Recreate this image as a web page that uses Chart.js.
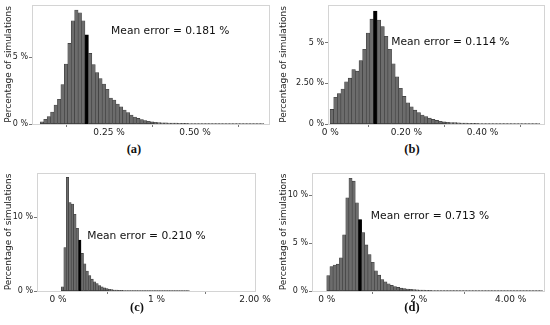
<!DOCTYPE html>
<html><head><meta charset="utf-8">
<script src="https://cdn.jsdelivr.net/npm/chart.js@4/dist/chart.umd.min.js"></script>
<style>
body{margin:0;background:#fff;width:550px;height:325px;position:relative;overflow:hidden;font-family:"DejaVu Sans"}
canvas{position:absolute}
.cap{position:absolute;font-family:"Liberation Serif","DejaVu Serif",serif;font-weight:bold;font-size:12.5px;transform:translate(-50%,-50%);color:#111;white-space:nowrap}
</style></head><body>
<canvas id="ca" width="275" height="140" style="left:0;top:0"></canvas>
<canvas id="cb" width="275" height="140" style="left:275px;top:0"></canvas>
<canvas id="cc" width="275" height="150" style="left:0;top:160px"></canvas>
<canvas id="cd" width="275" height="150" style="left:275px;top:160px"></canvas>
<div class="cap" style="left:134px;top:149px">(a)</div>
<div class="cap" style="left:412px;top:149px">(b)</div>
<div class="cap" style="left:137px;top:307px">(c)</div>
<div class="cap" style="left:412px;top:307px">(d)</div>
<script>
// ---- data (percent) ----
const binStartA = 0.05, binWidthA = 0.01, meanA = 0.181;
const countsA = [0.17,0.35,0.55,0.9,1.42,1.85,2.95,4.5,6.05,7.75,8.55,8.35,7.75,6.7,5.3,4.45,3.85,3.4,3.0,2.6,1.95,1.8,1.5,1.28,1.05,0.85,0.67,0.52,0.42,0.34,0.26,0.2,0.16,0.13,0.11,0.09,0.08,0.07,0.065,0.06,0.055,0.05,0.045,0.04,0.035,0.032,0.028,0.025,0.022,0.02,0.018,0.016,0.015,0.014,0.012,0.011,0.01,0.01,0.009,0.008,0.008,0.007,0.006,0.006,0.005];
const xTicksA = [0.25, 0.5], xTickLabelsA = ["0.25 %", "0.50 %"];
const yTicksA = [0, 5], yTickLabelsA = ["0 %", "5 %"];

const binStartB = -0.0005, binWidthB = 0.0095, meanB = 0.114;
const countsB = [0.9,1.64,1.87,2.15,2.6,2.82,3.35,3.25,3.9,4.6,5.6,6.45,6.95,6.4,6.0,5.4,4.6,3.7,2.9,2.2,1.7,1.3,1.05,0.85,0.7,0.55,0.45,0.36,0.28,0.22,0.17,0.13,0.1,0.09,0.08,0.07,0.06,0.05,0.045,0.04,0.035,0.03,0.028,0.025,0.022,0.02,0.018,0.016,0.014,0.012,0.011,0.01,0.009,0.008,0.007,0.006,0.005,0.005];
const xTicksB = [0, 0.2, 0.4], xTickLabelsB = ["0 %", "0.20 %", "0.40 %"];
const yTicksB = [0, 2.5, 5], yTickLabelsB = ["0 %", "2.50 %", "5 %"];

const binStartC = 0.034, binWidthC = 0.025, meanC = 0.210;
const countsC = [0.58,5.9,15.4,12.0,11.8,10.4,8.5,6.9,5.1,3.7,2.7,2.1,1.6,1.26,1.0,0.75,0.56,0.42,0.32,0.24,0.18,0.14,0.11,0.09,0.075,0.062,0.052,0.045,0.038,0.032,0.028,0.024,0.02,0.018,0.016,0.014,0.012,0.01,0.009,0.008,0.007,0.006,0.005,0.005,0.004,0.004,0.003,0.003,0.003,0.002,0.002,0.002];
const xTicksC = [0, 1, 2], xTickLabelsC = ["0 %", "1 %", "2.00 %"];
const yTicksC = [0, 10], yTickLabelsC = ["0 %", "10 %"];

const binStartD = 0, binWidthD = 0.069, meanD = 0.713;
const countsD = [1.6,2.55,2.7,2.8,3.45,5.85,9.7,11.75,11.45,9.2,7.45,6.1,4.8,3.8,3.0,2.1,1.65,1.2,0.95,0.75,0.58,0.45,0.37,0.3,0.24,0.2,0.17,0.14,0.12,0.1,0.085,0.075,0.065,0.055,0.048,0.042,0.036,0.032,0.028,0.025,0.022,0.02,0.018,0.016,0.014,0.012,0.011,0.01,0.009,0.008,0.007,0.007,0.006,0.006,0.005,0.005,0.004,0.004,0.004,0.003,0.003,0.003,0.003,0.002,0.002,0.002,0.002,0.002];
const xTicksD = [0, 2, 4], xTickLabelsD = ["0 %", "2 %", "4.00 %"];
const yTicksD = [0, 5, 10], yTickLabelsD = ["0 %", "5 %", "10 %"];

const yTitle = "Percentage of simulations";
const meanLabel = m => "Mean error = " + m.toFixed(3) + " %";

// ---- rendering ----
const FONT = "DejaVu Sans";
const frameAndText = {
  id: 'frameAndText',
  afterDatasetsDraw(chart, args, opts) {
    const {ctx, chartArea: a, scales} = chart;
    ctx.save();
    ctx.strokeStyle = '#d4d4d4';
    ctx.lineWidth = 1;
    ctx.strokeRect(Math.round(a.left) + 0.5, Math.round(a.top) + 0.5, Math.round(a.right - a.left) - 1, Math.round(a.bottom - a.top));
    ctx.fillStyle = '#111';
    ctx.font = '10.7px "' + FONT + '"';
    ctx.textAlign = 'left';
    ctx.textBaseline = 'middle';
    ctx.fillText(opts.text, scales.x.getPixelForValue(opts.tx), scales.y.getPixelForValue(opts.ty));
    ctx.restore();
  }
};

function makeHist(p) {
  const data = p.counts.map((c, i) => ({x: p.start + (i + 0.5) * p.width, y: c}));
  const hi = Math.floor((p.mean - p.start) / p.width);
  const colors = p.counts.map((c, i) => i === hi ? '#000000' : '#6c6c6c');
  const borders = p.counts.map((c, i) => i === hi ? '#000000' : '#3a3a3a');
  new Chart(document.getElementById(p.id), {
    type: 'bar',
    data: {datasets: [{data, backgroundColor: colors, borderColor: borders, borderWidth: 0.6,
      barPercentage: 1, categoryPercentage: 1, borderSkipped: false}]},
    options: {
      responsive: false, animation: false, devicePixelRatio: 1,
      layout: {padding: {top: p.padTop, right: p.padRight, left: 0, bottom: 0}},
      plugins: {legend: {display: false}, tooltip: {enabled: false},
        frameAndText: {text: meanLabel(p.mean), tx: p.tx, ty: p.ty}},
      scales: {
        x: {type: 'linear', min: p.xMin, max: p.xMax, offset: false,
          grid: {display: true, drawOnChartArea: false, drawTicks: true, tickLength: 3, color: '#555', lineWidth: 0.8},
          border: {display: false},
          afterBuildTicks: s => { s.ticks = p.xTicks.map(v => ({value: v})); },
          afterFit: s => { s.height = p.xAxisH; s.paddingLeft = 0; s.paddingRight = 0; },
          ticks: {autoSkip: false, maxRotation: 0, padding: 0, color: '#222', font: {family: FONT, size: 9},
            callback: (v) => p.xTickLabels[p.xTicks.indexOf(v)]}
        },
        y: {type: 'linear', min: 0, max: p.yMax,
          grid: {display: true, drawOnChartArea: false, drawTicks: true, tickLength: 3, color: '#555', lineWidth: 0.8},
          border: {display: false},
          afterBuildTicks: s => { s.ticks = p.yTicks.map(v => ({value: v})); },
          afterFit: s => { s.width = p.yAxisW; s.paddingTop = 0; s.paddingBottom = 0; },
          title: {display: true, text: yTitle, color: '#222', font: {family: FONT, size: 9}, padding: {top: 3, bottom: 0}},
          ticks: {autoSkip: false, padding: 1, color: '#222', font: {family: FONT, size: 8},
            callback: (v) => p.yTickLabels[p.yTicks.indexOf(v)]}
        }
      }
    },
    plugins: [frameAndText]
  });
}

makeHist({id: 'ca', counts: countsA, start: binStartA, width: binWidthA, mean: meanA,
  xTicks: xTicksA, xTickLabels: xTickLabelsA, yTicks: yTicksA, yTickLabels: yTickLabelsA,
  xMin: 0.026, xMax: 0.718, yMax: 8.93, tx: 0.256, ty: 6.98,
  padTop: 5, padRight: 5, yAxisW: 32, xAxisH: 16});
makeHist({id: 'cb', counts: countsB, start: binStartB, width: binWidthB, mean: meanB,
  xTicks: xTicksB, xTickLabels: xTickLabelsB, yTicks: yTicksB, yTickLabels: yTickLabelsB,
  xMin: -0.006, xMax: 0.564, yMax: 7.32, tx: 0.16, ty: 5.06,
  padTop: 5, padRight: 5, yAxisW: 53, xAxisH: 16});
makeHist({id: 'cc', counts: countsC, start: binStartC, width: binWidthC, mean: meanC,
  xTicks: xTicksC, xTickLabels: xTickLabelsC, yTicks: yTicksC, yTickLabels: yTickLabelsC,
  xMin: -0.213, xMax: 2.01, yMax: 16.0, tx: 0.297, ty: 7.37,
  padTop: 13, padRight: 19, yAxisW: 37, xAxisH: 19});
makeHist({id: 'cd', counts: countsD, start: binStartD, width: binWidthD, mean: meanD,
  xTicks: xTicksD, xTickLabels: xTickLabelsD, yTicks: yTicksD, yTickLabels: yTickLabelsD,
  xMin: -0.32, xMax: 4.746, yMax: 12.3, tx: 0.96, ty: 7.84,
  padTop: 13, padRight: 5, yAxisW: 37, xAxisH: 19});
</script>
</body></html>
